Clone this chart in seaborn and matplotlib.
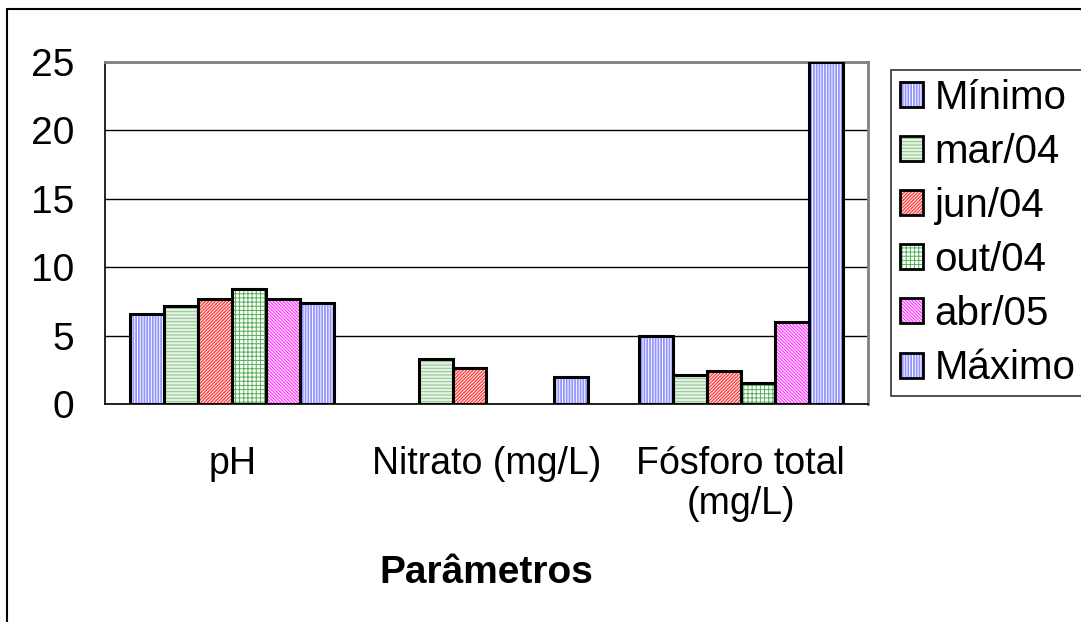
import numpy as np
import pandas as pd
import matplotlib.pyplot as plt
import seaborn as sns
from matplotlib.patches import Patch, Rectangle
from matplotlib.lines import Line2D

#------data--------------------
parametros = ['pH', 'Nitrato (mg/L)', 'Fósforo total\n(mg/L)']
series = ['Mínimo', 'mar/04', 'jun/04', 'out/04', 'abr/05', 'Máximo']

minimo = [6.6, np.nan, 5.0]
mar04 = [7.2, 3.3, 2.1]
jun04 = [7.7, 2.6, 2.4]
out04 = [8.4, np.nan, 1.5]
abr05 = [7.7, np.nan, 6.0]
maximo = [7.4, 2.0, 25.0]

# face colour, hatch, hatch colour
faces = ['#9494FF', '#E4F2E4', '#FFD8D8', '#FFFFFF', '#FF44FF', '#9494FF']
hatches = ['||||||', '-----', '/' * 10, '++++', '\\' * 10, '||||||']
hcolors = ['#FFFFFF', '#8CC48C', '#FF2020', '#55B055', '#FFFFFF', '#FFFFFF']

#------------------------------
valores = [minimo, mar04, jun04, out04, abr05, maximo]
rows = []
for s, vals in zip(series, valores):
    for p, v in zip(parametros, vals):
        rows.append({'param': p, 'serie': s, 'valor': v})
df = pd.DataFrame(rows).dropna()

sns.set_style('white')
plt.rcParams['font.family'] = ['Liberation Sans', 'DejaVu Sans']
plt.rcParams['font.size'] = 28
plt.rcParams['hatch.linewidth'] = 0.7
for key in ['text.color', 'axes.labelcolor', 'xtick.color', 'ytick.color']:
    plt.rcParams[key] = 'black'

fig = plt.figure(figsize=(10.81, 6.22), dpi=100)
ax = fig.add_axes([105/1081, 1-404/622, (868-105)/1081, (404-62)/622])

W = 0.8
sns.barplot(data=df, x='param', y='valor', hue='serie', order=parametros,
            hue_order=series, palette=faces, width=W, errorbar=None,
            legend=False, ax=ax)

nb = len(series)
for bar in list(ax.patches):
    xc = bar.get_x() + bar.get_width()/2
    k = int(round((xc - round(xc) + W/2)/(W/nb) - 0.5))
    bar.set_facecolor(faces[k])
    bar.set_hatch(hatches[k])
    bar.set_edgecolor(hcolors[k])
    bar.set_linewidth(0)
    ax.add_patch(Rectangle((bar.get_x(), bar.get_y()), bar.get_width(), bar.get_height(),
                           fill=False, edgecolor='black', linewidth=2.2, zorder=3))

ax.set_xlim(-0.5, 2.5)
ax.set_ylim(0, 25)
ax.set_yticks(range(0, 26, 5))
ax.set_xticks(range(3))
ax.set_xticklabels(parametros, linespacing=1.15)
ax.set_xticks([-0.5, 0.5, 1.5, 2.5], minor=True)
ax.tick_params(axis='x', which='major', length=0, pad=30, labelsize=27)
ax.tick_params(axis='x', which='minor', length=8.5, width=1, direction='out', color='black')
ax.tick_params(axis='y', length=8, width=1, direction='out', color='black', pad=14, labelsize=28)
ax.set_ylabel('')
ax.set_xlabel('Parâmetros', fontweight='bold', fontsize=28, labelpad=24)

ax.yaxis.grid(True, color='black', linewidth=1)
ax.set_axisbelow(True)
for side in ['left', 'bottom']:
    ax.spines[side].set_color('black')
    ax.spines[side].set_linewidth(1.2)
for side in ['top', 'right']:
    ax.spines[side].set_color('#808080')
    ax.spines[side].set_linewidth(2)

handles = [(Patch(facecolor=faces[k], hatch=hatches[k], edgecolor=hcolors[k], linewidth=0),
            Patch(fill=False, edgecolor='black', linewidth=2))
           for k in range(nb)]
leg = fig.legend(handles, series, loc='center left', bbox_to_anchor=(891/1081, 1-233/622),
                 bbox_transform=fig.transFigure, frameon=True, fancybox=False,
                 edgecolor='black', fontsize=29, handlelength=0.58, handleheight=0.58,
                 handletextpad=0.28, labelspacing=0.4, borderpad=0.22, borderaxespad=0)
leg.get_frame().set_linewidth(1.2)

# chart border
fig.add_artist(Line2D([7/1081, 7/1081], [0, 1-9/622], transform=fig.transFigure,
                      color='black', linewidth=1.5))
fig.add_artist(Line2D([7/1081, 1], [1-9/622, 1-9/622], transform=fig.transFigure,
                      color='black', linewidth=1.5))

fig.savefig('out.png', dpi=100)
